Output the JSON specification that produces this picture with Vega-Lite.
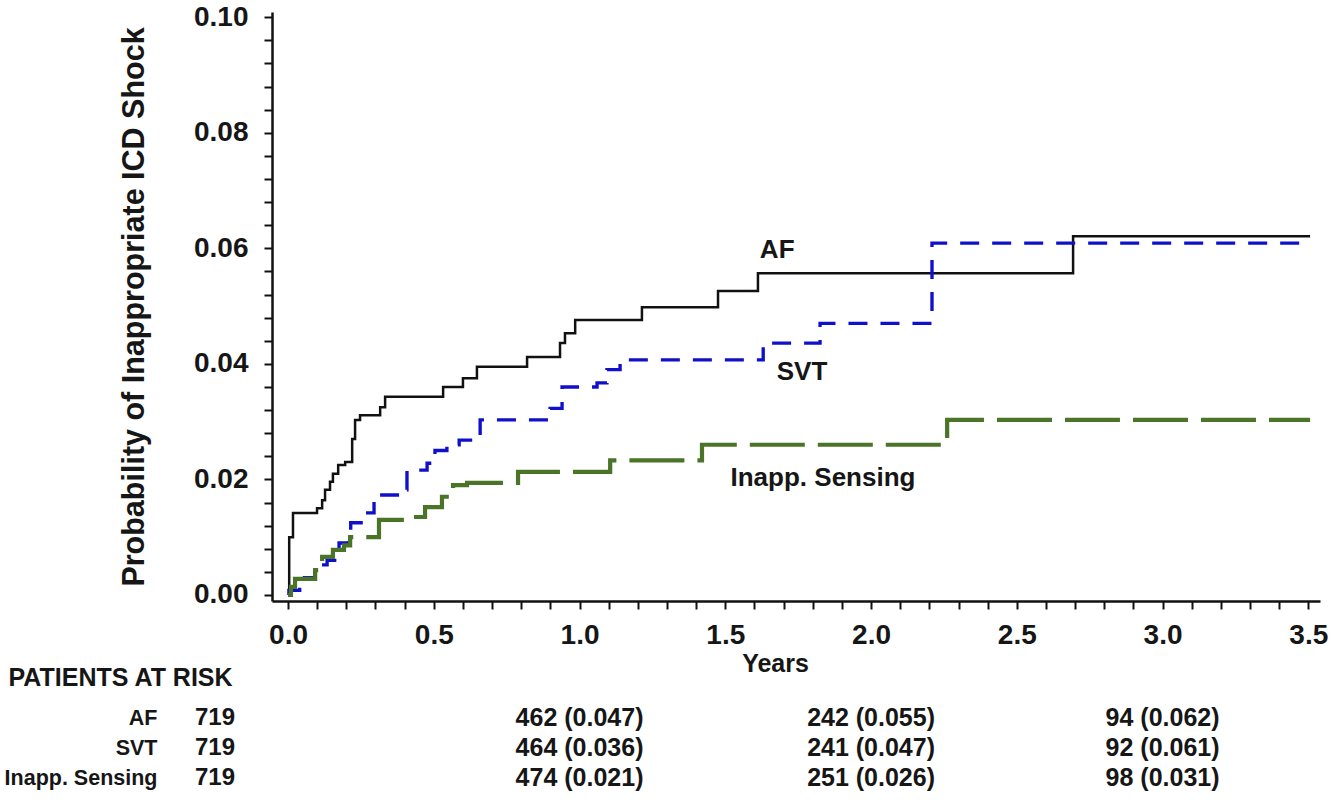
{
  "$schema": "https://vega.github.io/schema/vega-lite/v6.json",
  "autosize": {"type": "pad"},
  "padding": {"left": 4, "top": 3, "right": 0, "bottom": 4},
  "background": "white",
  "bounds": "flush",
  "spacing": 102,
  "config": {
    "view": {"stroke": null},
    "font": "Liberation Sans",
    "text": {"font": "Liberation Sans"},
    "axis": {"labelFont": "Liberation Sans", "titleFont": "Liberation Sans", "labelColor": "#161616", "titleColor": "#161616"}
  },
  "datasets": {
    "curves": [
      {"series": "AF", "t": 0, "p": 0},
      {"series": "AF", "t": 0.004, "p": 0.010},
      {"series": "AF", "t": 0.017, "p": 0.0142},
      {"series": "AF", "t": 0.0995, "p": 0.015},
      {"series": "AF", "t": 0.117, "p": 0.0164},
      {"series": "AF", "t": 0.127, "p": 0.0182},
      {"series": "AF", "t": 0.144, "p": 0.0196},
      {"series": "AF", "t": 0.154, "p": 0.021},
      {"series": "AF", "t": 0.172, "p": 0.0225},
      {"series": "AF", "t": 0.196, "p": 0.023},
      {"series": "AF", "t": 0.22, "p": 0.027},
      {"series": "AF", "t": 0.23, "p": 0.0303},
      {"series": "AF", "t": 0.247, "p": 0.0311},
      {"series": "AF", "t": 0.316, "p": 0.0325},
      {"series": "AF", "t": 0.333, "p": 0.0343},
      {"series": "AF", "t": 0.532, "p": 0.036},
      {"series": "AF", "t": 0.6, "p": 0.0375},
      {"series": "AF", "t": 0.648, "p": 0.0395},
      {"series": "AF", "t": 0.82, "p": 0.0412},
      {"series": "AF", "t": 0.933, "p": 0.0436},
      {"series": "AF", "t": 0.95, "p": 0.0453},
      {"series": "AF", "t": 0.985, "p": 0.0476},
      {"series": "AF", "t": 1.214, "p": 0.0498},
      {"series": "AF", "t": 1.475, "p": 0.0526},
      {"series": "AF", "t": 1.612, "p": 0.0557},
      {"series": "AF", "t": 2.693, "p": 0.0621},
      {"series": "AF", "t": 3.506, "p": 0.0621},
      {"series": "SVT", "t": 0, "p": 0},
      {"series": "SVT", "t": 0.003, "p": 0.0008},
      {"series": "SVT", "t": 0.04, "p": 0.003},
      {"series": "SVT", "t": 0.093, "p": 0.0052},
      {"series": "SVT", "t": 0.134, "p": 0.006},
      {"series": "SVT", "t": 0.175, "p": 0.009},
      {"series": "SVT", "t": 0.209, "p": 0.0112},
      {"series": "SVT", "t": 0.215, "p": 0.0125},
      {"series": "SVT", "t": 0.264, "p": 0.0142},
      {"series": "SVT", "t": 0.295, "p": 0.0168},
      {"series": "SVT", "t": 0.312, "p": 0.0173},
      {"series": "SVT", "t": 0.381, "p": 0.0182},
      {"series": "SVT", "t": 0.408, "p": 0.0216},
      {"series": "SVT", "t": 0.477, "p": 0.0228},
      {"series": "SVT", "t": 0.504, "p": 0.025},
      {"series": "SVT", "t": 0.545, "p": 0.026},
      {"series": "SVT", "t": 0.587, "p": 0.0268},
      {"series": "SVT", "t": 0.659, "p": 0.0303},
      {"series": "SVT", "t": 0.899, "p": 0.0323},
      {"series": "SVT", "t": 0.94, "p": 0.036},
      {"series": "SVT", "t": 1.06, "p": 0.0367},
      {"series": "SVT", "t": 1.094, "p": 0.039},
      {"series": "SVT", "t": 1.139, "p": 0.0407},
      {"series": "SVT", "t": 1.63, "p": 0.0436},
      {"series": "SVT", "t": 1.825, "p": 0.047},
      {"series": "SVT", "t": 2.209, "p": 0.0609},
      {"series": "SVT", "t": 3.506, "p": 0.0609},
      {"series": "Inapp. Sensing", "t": 0, "p": 0},
      {"series": "Inapp. Sensing", "t": 0.01, "p": 0.0014},
      {"series": "Inapp. Sensing", "t": 0.024, "p": 0.0028},
      {"series": "Inapp. Sensing", "t": 0.093, "p": 0.0043},
      {"series": "Inapp. Sensing", "t": 0.117, "p": 0.0066},
      {"series": "Inapp. Sensing", "t": 0.154, "p": 0.0078},
      {"series": "Inapp. Sensing", "t": 0.192, "p": 0.0086},
      {"series": "Inapp. Sensing", "t": 0.213, "p": 0.01},
      {"series": "Inapp. Sensing", "t": 0.312, "p": 0.013},
      {"series": "Inapp. Sensing", "t": 0.415, "p": 0.0135},
      {"series": "Inapp. Sensing", "t": 0.47, "p": 0.0152},
      {"series": "Inapp. Sensing", "t": 0.528, "p": 0.017},
      {"series": "Inapp. Sensing", "t": 0.566, "p": 0.019},
      {"series": "Inapp. Sensing", "t": 0.614, "p": 0.0194},
      {"series": "Inapp. Sensing", "t": 0.789, "p": 0.0213},
      {"series": "Inapp. Sensing", "t": 1.105, "p": 0.0233},
      {"series": "Inapp. Sensing", "t": 1.42, "p": 0.026},
      {"series": "Inapp. Sensing", "t": 2.261, "p": 0.0303},
      {"series": "Inapp. Sensing", "t": 3.506, "p": 0.0303}
    ],
    "labels": [
      {"label": "AF", "t": 1.678, "p": 0.0597},
      {"label": "SVT", "t": 1.763, "p": 0.0386},
      {"label": "Inapp. Sensing", "t": 1.835, "p": 0.0202}
    ],
    "risk": [
      {"row": "AF", "year": 0, "label": "719"},
      {"row": "AF", "year": 1, "label": "462 (0.047)"},
      {"row": "AF", "year": 2, "label": "242 (0.055)"},
      {"row": "AF", "year": 3, "label": "94 (0.062)"},
      {"row": "SVT", "year": 0, "label": "719"},
      {"row": "SVT", "year": 1, "label": "464 (0.036)"},
      {"row": "SVT", "year": 2, "label": "241 (0.047)"},
      {"row": "SVT", "year": 3, "label": "92 (0.061)"},
      {"row": "Inapp. Sensing", "year": 0, "label": "719"},
      {"row": "Inapp. Sensing", "year": 1, "label": "474 (0.021)"},
      {"row": "Inapp. Sensing", "year": 2, "label": "251 (0.026)"},
      {"row": "Inapp. Sensing", "year": 3, "label": "98 (0.031)"}
    ]
  },
  "vconcat": [
    {
      "width": 1048,
      "height": 589,
      "layer": [
        {
          "data": {"name": "curves"},
          "mark": {"type": "line", "interpolate": "step-after"},
          "encoding": {
            "x": {
              "field": "t", "type": "quantitative",
              "scale": {"domain": [-0.055, 3.54], "nice": false, "zero": false},
              "axis": {
                "values": [0,0.1,0.2,0.3,0.4,0.5,0.6,0.7,0.8,0.9,1,1.1,1.2,1.3,1.4,1.5,1.6,1.7,1.8,1.9,2,2.1,2.2,2.3,2.4,2.5,2.6,2.7,2.8,2.9,3,3.1,3.2,3.3,3.4,3.5],
                "tickCount": 200,
                "labelExpr": "abs(datum.value*2 - round(datum.value*2)) < 0.01 ? format(datum.value, '.1f') : ''",
                "title": "Years",
                "titleX": 503, "titleY": 50, "titleBaseline": "top", "titleAlign": "center",
                "titleFontSize": 25, "titleFontWeight": "bold",
                "labelFontSize": 28, "labelFontWeight": "bold", "labelPadding": 12,
                "labelFlush": false, "labelOverlap": false,
                "tickSize": 8, "tickWidth": 2, "tickColor": "#111",
                "domainWidth": 2.5, "domainColor": "#111", "grid": false
              }
            },
            "y": {
              "field": "p", "type": "quantitative",
              "scale": {"domain": [-0.00104, 0.1009], "nice": false, "zero": false},
              "axis": {
                "values": [0,0.004,0.008,0.012,0.016,0.02,0.024,0.028,0.032,0.036,0.04,0.044,0.048,0.052,0.056,0.06,0.064,0.068,0.072,0.076,0.08,0.084,0.088,0.092,0.096,0.1],
                "tickCount": 200,
                "labelExpr": "abs(datum.value*50 - round(datum.value*50)) < 0.01 ? format(datum.value, '.2f') : ''",
                "title": "Probability of Inappropriate ICD Shock",
                "titleFontSize": 30.5, "titleFontWeight": "bold", "titlePadding": 44,
                "labelFontSize": 28, "labelFontWeight": "bold", "labelPadding": 16,
                "labelFlush": false, "labelOverlap": false,
                "tickSize": 8, "tickWidth": 2, "tickColor": "#111",
                "domainWidth": 2.5, "domainColor": "#111", "grid": false
              }
            },
            "color": {
              "field": "series", "type": "nominal", "legend": null,
              "scale": {"domain": ["AF", "SVT", "Inapp. Sensing"], "range": ["#111111", "#1010cc", "#4a7428"]}
            },
            "strokeDash": {
              "field": "series", "type": "nominal", "legend": null,
              "scale": {"domain": ["AF", "SVT", "Inapp. Sensing"], "range": [[1, 0], [19, 13], [55, 13]]}
            },
            "strokeWidth": {
              "field": "series", "type": "nominal", "legend": null,
              "scale": {"domain": ["AF", "SVT", "Inapp. Sensing"], "range": [2.5, 4.2, 3.5]}
            }
          }
        },
        {
          "data": {"name": "labels"},
          "mark": {"type": "text", "fontSize": 26, "fontWeight": "bold", "color": "#161616", "align": "center", "baseline": "middle"},
          "encoding": {
            "x": {"field": "t", "type": "quantitative"},
            "y": {"field": "p", "type": "quantitative"},
            "text": {"field": "label"}
          }
        }
      ]
    },
    {
      "width": 1048,
      "height": 90,
      "data": {"name": "risk"},
      "encoding": {
        "x": {
          "field": "year", "type": "quantitative",
          "scale": {"domain": [-0.055, 3.54], "nice": false, "zero": false},
          "axis": null
        },
        "y": {
          "field": "row", "type": "nominal",
          "sort": ["AF", "SVT", "Inapp. Sensing"],
          "axis": {
            "domain": false, "ticks": false, "labelPadding": 115,
            "labelFontSize": 21.5, "labelFontWeight": "bold",
            "title": "PATIENTS AT RISK", "titleAngle": 0, "titleAlign": "left", "titleBaseline": "middle",
            "titleX": -264, "titleY": -26, "titleFontSize": 25, "titleFontWeight": "bold"
          }
        },
        "text": {"field": "label"}
      },
      "layer": [
        {
          "transform": [{"filter": "datum.year > 0"}],
          "mark": {"type": "text", "fontSize": 25, "fontWeight": "bold", "color": "#161616", "align": "center", "baseline": "middle"}
        },
        {
          "transform": [{"filter": "datum.year == 0"}],
          "mark": {"type": "text", "fontSize": 24, "fontWeight": "bold", "color": "#161616", "align": "center", "baseline": "middle", "dx": -73}
        }
      ]
    }
  ]
}
